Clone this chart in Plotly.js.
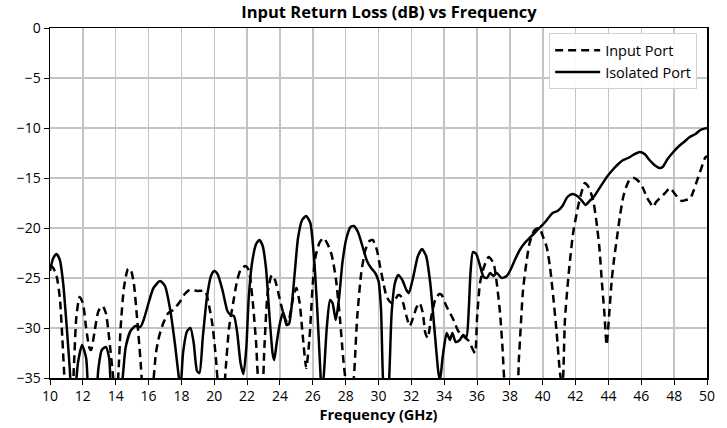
<!DOCTYPE html>
<html>
<head>
<meta charset="utf-8">
<script src="https://cdn.plot.ly/plotly-3.0.1.min.js"></script>
<style>html,body{margin:0;padding:0;background:#fff;}#chart{width:727px;height:428px;}</style>
</head>
<body>
<div id="chart"></div>
<script>
const isoFreq = [10.0,10.2,10.4,10.6,10.8,11.0,11.2,11.35,11.5,11.7,11.95,12.2,12.45,12.7,12.95,13.15,13.4,13.6,13.85,14.2,14.45,14.6,14.9,15.2,15.5,15.7,16.0,16.3,16.7,17.0,17.3,17.6,17.85,17.95,18.1,18.35,18.55,18.75,18.95,19.1,19.3,19.55,19.8,20.0,20.2,20.5,20.8,21.0,21.2,21.4,21.6,21.78,21.95,22.1,22.3,22.55,22.75,22.95,23.15,23.35,23.55,23.65,23.8,24.0,24.2,24.4,24.55,24.7,24.9,25.1,25.35,25.6,25.85,26.05,26.25,26.45,26.55,26.7,26.85,27.05,27.2,27.4,27.6,27.8,28.05,28.3,28.5,28.75,29.0,29.3,29.55,29.8,30.0,30.15,30.3,30.5,30.65,30.8,31.0,31.2,31.45,31.7,31.85,32.1,32.4,32.65,32.9,33.15,33.4,33.65,33.75,33.9,34.15,34.35,34.5,34.7,34.95,35.15,35.35,35.5,35.6,35.75,35.95,36.15,36.4,36.6,36.8,37.0,37.2,37.5,37.8,38.0,38.3,38.6,38.9,39.2,39.5,39.8,40.2,40.6,40.9,41.2,41.5,41.8,42.1,42.4,42.6,42.85,43.1,43.5,43.9,44.3,44.6,44.9,45.2,45.5,45.9,46.2,46.5,46.8,47.1,47.3,47.6,47.95,48.3,48.6,48.95,49.3,49.6,50.0];
const isoLoss = [-24.3,-23.0,-22.6,-23.2,-25.5,-29.5,-34,-38,-37,-33.5,-31.7,-33,-38,-38,-34,-32.2,-31.9,-33,-38,-38,-34.5,-32,-30.3,-29.8,-29.9,-29.2,-27.5,-26.0,-25.3,-25.8,-28,-31.5,-35,-36,-32.5,-30.3,-30.0,-31.5,-34.3,-34.5,-31,-27,-24.8,-24.3,-24.6,-26.2,-28.3,-28.7,-28.8,-30.5,-33.5,-34.6,-32,-27,-23.5,-21.6,-21.2,-21.8,-24,-28.5,-32.5,-33.2,-31.5,-29.5,-28.4,-29.7,-29.6,-28,-24.5,-21,-19.2,-18.8,-19.5,-22.5,-27.5,-34,-37,-34,-30,-27.2,-27.5,-29.2,-27,-23.5,-21,-19.9,-19.8,-20.4,-21.7,-23.3,-24,-24.5,-25.3,-28,-36,-38,-35,-28.5,-25.5,-24.7,-25.2,-26.2,-26.5,-25,-22.8,-22.1,-22.8,-25.5,-30,-34.5,-35.2,-33,-30.5,-31.2,-30.5,-31.4,-31.2,-30.7,-30.9,-28,-24.5,-22.4,-22.6,-23.6,-24.9,-25.0,-24.5,-24.8,-24.5,-25.0,-24.8,-24.3,-23.2,-22.2,-21.5,-21.0,-20.5,-20.0,-19.3,-18.5,-18.3,-17.8,-16.9,-16.6,-16.8,-17.3,-17.7,-17.3,-16.9,-15.9,-14.9,-14.1,-13.6,-13.2,-13.0,-12.7,-12.4,-12.6,-13.2,-13.7,-14.0,-13.9,-13.1,-12.4,-11.8,-11.4,-10.9,-10.6,-10.2,-10.0];

const inFreq = [10.0,10.2,10.4,10.6,10.75,10.9,11.05,11.3,11.45,11.6,11.8,12.0,12.2,12.4,12.5,12.7,12.95,13.2,13.4,13.6,13.85,14.0,14.15,14.3,14.5,14.75,14.9,15.1,15.3,15.5,15.7,16.0,16.25,16.45,16.65,16.9,17.2,17.5,17.9,18.2,18.5,19.0,19.45,19.65,19.9,20.1,20.25,20.5,20.7,20.9,21.15,21.4,21.6,21.9,22.1,22.35,22.55,22.75,22.9,23.05,23.25,23.5,23.7,24.0,24.25,24.45,24.6,24.8,25.0,25.2,25.4,25.6,25.8,26.0,26.15,26.4,26.65,26.9,27.15,27.4,27.65,27.85,28.05,28.3,28.5,28.7,28.95,29.2,29.45,29.65,29.9,30.1,30.3,30.5,30.8,31.0,31.2,31.35,31.5,31.7,31.9,32.1,32.3,32.5,32.7,32.85,33.0,33.2,33.45,33.7,33.85,34.05,34.25,34.45,34.65,34.85,35.05,35.3,35.5,35.7,35.88,36.0,36.18,36.4,36.7,37.0,37.2,37.4,37.55,37.7,38.0,38.35,38.55,38.8,39.0,39.2,39.5,39.8,40.0,40.24,40.45,40.64,40.85,41.05,41.2,41.35,41.5,41.66,41.85,42.07,42.3,42.57,42.75,42.9,43.1,43.28,43.45,43.59,43.75,43.89,44.05,44.2,44.35,44.5,44.7,44.9,45.1,45.31,45.55,45.82,46.1,46.33,46.55,46.73,46.9,47.14,47.45,47.75,48.0,48.25,48.46,48.7,48.96,49.2,49.47,49.7,49.88,50.0];
const inLoss = [-23.7,-24.0,-24.8,-27,-31,-35.5,-38,-38,-34,-29,-26.9,-27.5,-30,-32,-32.2,-30.5,-28.3,-27.8,-28.5,-31,-35,-38,-35,-30,-26,-24.1,-24.1,-25.5,-29,-33,-37,-38,-36,-32.5,-30.8,-29.5,-28.5,-28.2,-27.4,-26.6,-26.2,-26.3,-26.3,-27.5,-29.8,-33,-36,-38,-34,-30,-27.5,-25.2,-24.2,-23.8,-24.2,-27.5,-31.5,-36,-36,-32,-26.5,-24.7,-25.2,-27.2,-28.8,-29.5,-28.8,-27,-26.0,-27.5,-31,-34.0,-31,-25.5,-23,-21.5,-21.0,-21.6,-22.7,-25,-29,-33,-36,-38,-35,-29,-24.5,-22.2,-21.3,-21.2,-22.2,-23.9,-25.5,-26.9,-27.5,-27.2,-26.7,-26.8,-27.5,-28.8,-29.8,-29.0,-28.0,-27.5,-28.5,-30.5,-31.0,-29.0,-27.2,-26.6,-26.7,-27.5,-28.2,-28.8,-29.5,-30.3,-30.6,-31.0,-31.3,-32.0,-32.5,-29,-25.5,-24.0,-22.9,-23.5,-25.5,-28.5,-32,-36,-38,-38,-33,-26.2,-23.5,-21.5,-20.2,-20.0,-20.8,-21.9,-24,-26.9,-30.5,-34.5,-36,-29.2,-26,-23.2,-20.5,-18.5,-16.8,-15.5,-15.8,-16.3,-17.5,-19.5,-22,-25.2,-28.5,-31.7,-28.5,-25.2,-23,-21.2,-18.8,-16.9,-15.8,-15.1,-15.0,-15.3,-16.0,-16.9,-17.5,-17.9,-17.4,-17.0,-16.5,-16.0,-16.5,-17.0,-17.3,-17.2,-17.1,-16.2,-14.9,-13.8,-13.0,-12.8];

const xTicks = [10,12,14,16,18,20,22,24,26,28,30,32,34,36,38,40,42,44,46,48,50];
const yTicks = [-35,-30,-25,-20,-15,-10,-5,0];
const seriesNames = ['Input Port','Isolated Port'];
const chartTitle = 'Input Return Loss (dB) vs Frequency';
const xTitle = 'Frequency (GHz)';

const traces = [
  {x: inFreq, y: inLoss, name: seriesNames[0], mode: 'lines',
   line: {color: '#000', width: 2.5, dash: '8px,5px', shape: 'spline', smoothing: 0.6}},
  {x: isoFreq, y: isoLoss, name: seriesNames[1], mode: 'lines',
   line: {color: '#000', width: 2.5, shape: 'spline', smoothing: 0.6}}
];

const layout = {
  width: 727, height: 428,
  margin: {l: 50, r: 20, t: 28, b: 50},
  paper_bgcolor: '#fff', plot_bgcolor: '#fff',
  font: {family: 'Open Sans, sans-serif', size: 14, color: '#000'},
  title: {text: '<b>' + chartTitle + '</b>', font: {size: 16.5, color: '#000'},
          x: 0.516, xref: 'paper', xanchor: 'center', y: 0.972, yref: 'container', yanchor: 'middle'},
  xaxis: {range: [10, 50], tickvals: xTicks, ticktext: xTicks.map(String),
          showgrid: true, gridcolor: '#c4c4c4', gridwidth: 1.5,
          showline: true, linecolor: '#000', linewidth: 1.5, mirror: true,
          ticks: 'outside', ticklen: 5, tickcolor: '#000', zeroline: false,
          tickfont: {size: 14},
          title: {text: '<b>' + xTitle + '</b>', font: {size: 14.5}, standoff: 4}},
  yaxis: {range: [-35, 0], tickvals: yTicks, ticktext: yTicks.map(v => v < 0 ? '\u2212' + Math.abs(v) : String(v)),
          showgrid: true, gridcolor: '#c4c4c4', gridwidth: 1.5,
          showline: true, linecolor: '#000', linewidth: 1.5, mirror: true,
          ticks: 'outside', ticklen: 5, tickcolor: '#000', zeroline: false,
          tickfont: {size: 14}},
  showlegend: true,
  legend: {x: 0.985, y: 0.985, xanchor: 'right', yanchor: 'top',
           bgcolor: 'rgba(255,255,255,0.9)', bordercolor: '#d0d0d0', borderwidth: 1,
           font: {size: 14.5}, tracegroupgap: 0, itemwidth: 45}
};

Plotly.newPlot('chart', traces, layout, {displayModeBar: false, staticPlot: true});
</script>
</body>
</html>
